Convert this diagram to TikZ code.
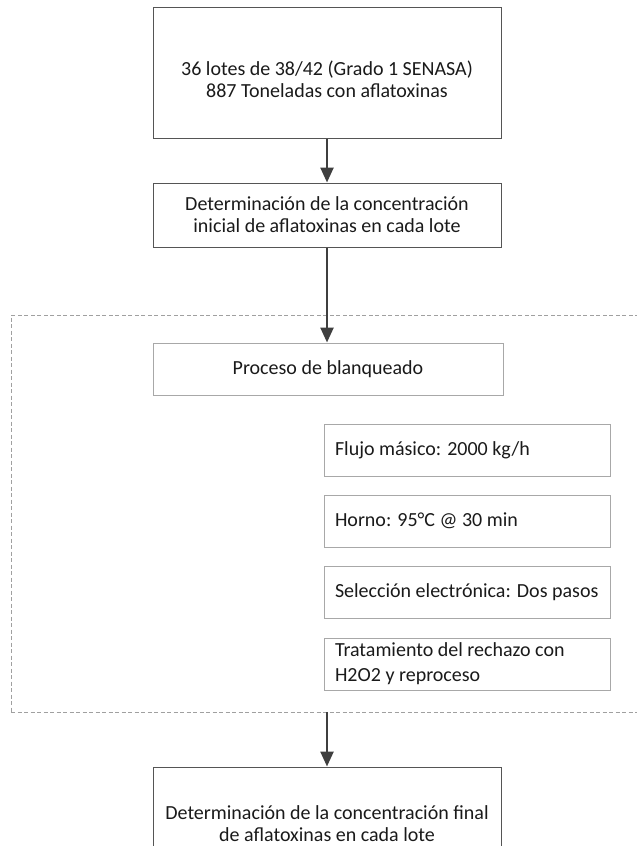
\documentclass[tikz,border=0pt]{standalone}
\usepackage{fontspec}
\setmainfont{Carlito}
\usetikzlibrary{arrows.meta}
\definecolor{bordeoscuro}{HTML}{555555}
\definecolor{bordeclaro}{HTML}{A8A8A8}
\definecolor{bordepunteado}{HTML}{A0A0A0}
\definecolor{flechagris}{HTML}{3F3F3F}
\definecolor{texto}{HTML}{1A1A1A}

\begin{document}
\begin{tikzpicture}[x=1pt,y=-1pt,
  caja/.style={draw=bordeoscuro,line width=1pt,align=center,text=texto,
    font=\fontsize{20}{22}\selectfont,inner sep=0pt,minimum width=348pt},
  subcaja/.style={draw=bordeclaro,line width=1pt,align=flush left,text=texto,
    font=\fontsize{20}{25}\selectfont,inner xsep=11pt,inner ysep=0pt,
    text width=264pt,minimum height=52pt},
  flecha/.style={draw=flechagris,line width=2.5pt,
    -{Triangle[width=13pt,length=15pt]}}]
  \useasboundingbox (0,0) rectangle (637,846);

  % Cajas principales
  \node[caja,minimum height=131pt] (lotes) at (327,72.5)
    {\rule{0pt}{28pt}36 lotes de 38/42 (Grado 1 SENASA)\\887 Toneladas con aflatoxinas};
  \node[caja,minimum height=64pt] (inicial) at (327,215)
    {Determinación de la concentración\\inicial de aflatoxinas en cada lote};

  % Proceso de blanqueado (recuadro punteado)
  \node[draw=bordepunteado,line width=0.8pt,dash pattern=on 4pt off 2.5pt,
    minimum width=629pt,minimum height=397pt,inner sep=0pt] (proceso) at (325.5,513.5) {};
  \node[caja,draw=bordeclaro,minimum width=350pt,minimum height=52pt] (blanqueo) at (328,369)
    {Proceso de blanqueado};
  \node[subcaja] (flujo) at (467,450) {Flujo másico: 2000 kg/h};
  \node[subcaja] (horno) at (467,521) {Horno: 95°C @ 30 min};
  \node[subcaja] (seleccion) at (467,592.5) {Selección electrónica: Dos pasos};
  \node[subcaja] (rechazo) at (467,664) {Tratamiento del rechazo con\\H2O2 y reproceso};

  % Caja final
  \node[caja,minimum height=114pt] (final) at (327,824)
    {Determinación de la concentración final\\de aflatoxinas en cada lote};

  % Flechas
  \draw[flecha] (lotes) -- (inicial);
  \draw[flecha] (inicial.south) -- (inicial.south |- blanqueo.north);
  \draw[flecha] (final.north |- proceso.south) -- (final.north);

\end{tikzpicture}
\end{document}
